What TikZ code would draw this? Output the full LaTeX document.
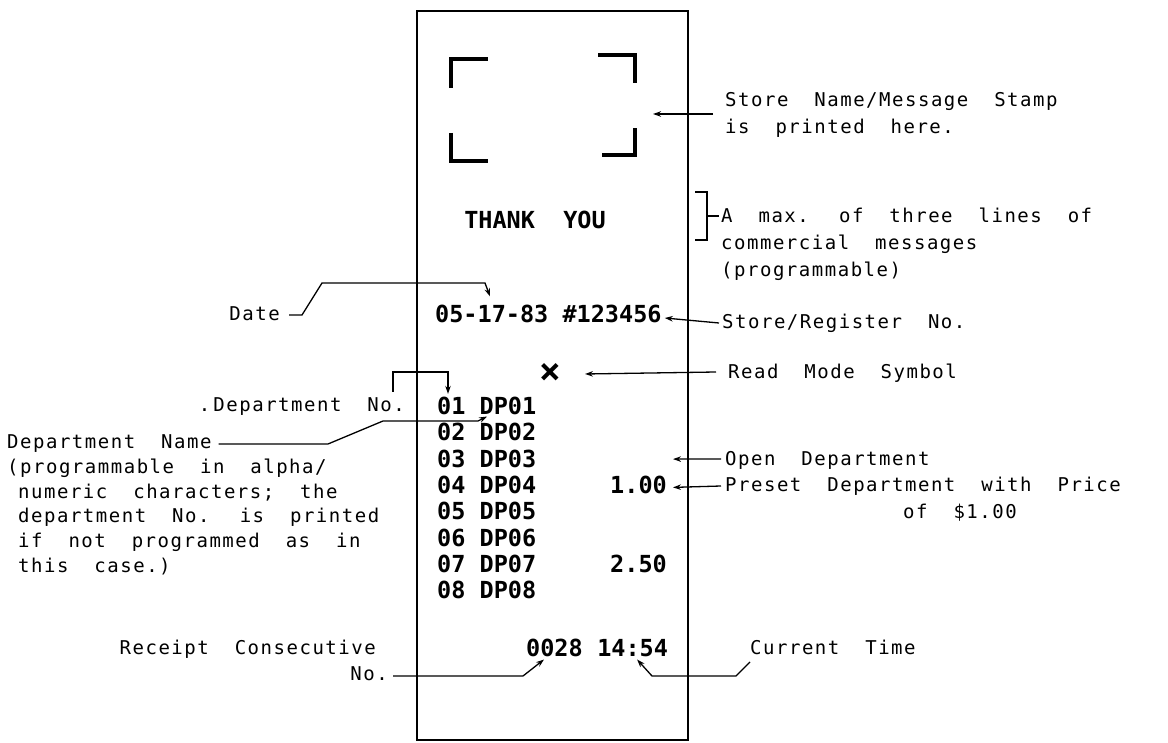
\documentclass[tikz,border=0pt]{standalone}
\usepackage{fontspec}
\newfontfamily\lblfont[LetterSpace=8, WordSpace=2]{DejaVu Sans Mono}
\newfontfamily\rcptfont{DejaVu Sans Mono}
\usetikzlibrary{positioning, arrows.meta, calc}

\begin{document}
\begin{tikzpicture}[
  x=1pt, y=-1pt,
  >={Stealth[length=8pt, width=5.5pt]},
  % --- node styles ---
  lbl/.style={
    font=\lblfont\fontsize{19}{27}\selectfont,
    inner sep=0pt, align=left, anchor=base west
  },
  rcpt/.style={
    font=\rcptfont\bfseries\fontsize{23.5}{26}\selectfont,
    inner sep=0pt, anchor=base west
  },
  arr/.style={->, line width=1.3pt},
  lead/.style={line width=1.3pt},
  cornermark/.style={line width=3.6pt},
]
\useasboundingbox (0,0) rectangle (1168,743);

% ══════════════════════════════════════════════
% RECEIPT
% ══════════════════════════════════════════════

\node[draw, line width=2pt, inner sep=0pt, anchor=north west,
  minimum width=271pt, minimum height=729pt] (receipt) at (416,10) {};

% stamp area corners
\draw[cornermark] (451,88) -- (451,59) -- (488,59);
\draw[cornermark] (598,55) -- (635,55) -- (635,83);
\draw[cornermark] (451,133) -- (451,161) -- (488,161);
\draw[cornermark] (602,155) -- (635,155) -- (635,128);

\node[rcpt, anchor=base] (thanks) at (535,229) {THANK\ \ YOU};

\node[rcpt] (date) at (435,323) {05-17-83 \#123456};

\node[rcpt, anchor=center, font=\rcptfont\bfseries\fontsize{36}{36}\selectfont]
  (readX) at (550,373) {×};

\foreach \i in {1,...,8}
  \node[rcpt] (dp\i) at (437, {414.5 + 26.3*(\i-1)}) {0\i\ DP0\i};

\node[rcpt, anchor=base east] (price4) at (dp4.base -| 667,0) {1.00};
\node[rcpt, anchor=base east] (price7) at (dp7.base -| 667,0) {2.50};

\node[rcpt] (seqNo) at (526,656.5) {0028};
\node[rcpt] (clock) at ([xshift=14.1pt]seqNo.base east) {14:54};

% ══════════════════════════════════════════════
% RIGHT-HAND LABELS
% ══════════════════════════════════════════════

\node[lbl, anchor=north west] (stamp) at (725,92)
  {Store Name/Message Stamp\\is printed here.};
\draw[arr] ([xshift=-12pt, yshift=-22pt]stamp.north west) -- ++(-60,0);

\node[lbl, anchor=north west] (msg) at (721,208)
  {A max. of three lines of\\commercial messages\\(programmable)};
\draw[lead] (695,192) -- (707,192) -- (707,240) -- (695,240);
\draw[lead] (707,216) -- ([xshift=-2pt, yshift=-8pt]msg.north west);

\node[lbl] (regLbl) at (722,329) {Store/Register No.};
\draw[arr] ([xshift=-3pt, yshift=6pt]regLbl.base west)
  -- ([xshift=3pt, yshift=5pt]date.base east);

\node[lbl] (readLbl) at (728,378) {Read Mode Symbol};
\draw[arr] ([xshift=-12pt, yshift=6pt]readLbl.base west)
  -- ([xshift=35pt, yshift=-1pt]readX.center);

\node[lbl] (openLbl) at (725,465) {Open Department};
\draw[arr] ([xshift=-4pt, yshift=6pt]openLbl.base west)
  -- ([xshift=6pt, yshift=8pt]dp3.base -| price4.east);

\node[lbl, anchor=north west] (presetLbl) at (725,477)
  {Preset Department with Price\\\hspace*{178pt}of \$1.00};
\draw[arr] ([xshift=-4pt, yshift=-9pt]presetLbl.north west)
  -- ([xshift=6pt, yshift=6pt]price4.base east);

\node[lbl] (curLbl) at (750,654) {Current Time};
\draw[arr] ([xshift=0pt, yshift=-8pt]curLbl.base west) -- (736,676)
  -- (652,676) -- ([xshift=40pt, yshift=-3pt]clock.base west);

% ══════════════════════════════════════════════
% LEFT-HAND LABELS
% ══════════════════════════════════════════════

\node[lbl, anchor=base east] (dateLbl) at (280,321) {Date};
\draw[arr] ([xshift=9pt, yshift=6pt]dateLbl.base east) -- ++(13,0)
  -- (322,283) -- (485,283) -- ([xshift=55pt, yshift=9pt]date.north west);

\node[lbl, anchor=base east] (dnoLbl) at (405,412) {.\,Department No.};
\draw[arr] ([xshift=-12pt, yshift=20pt]dnoLbl.base east)
  |- ([xshift=11pt, yshift=25pt]dp1.north west)
  -- ([xshift=11pt, yshift=3pt]dp1.north west);

\node[lbl] (dnameLbl) at (7,448) {Department Name};
\node[lbl, anchor=north west, font=\lblfont\fontsize{19}{24.8}\selectfont]
  (dnameNote) at (7,458.6)
  {(programmable in alpha/\\
   \hspace*{11pt}numeric characters; the\\
   \hspace*{11pt}department No. is printed\\
   \hspace*{11pt}if not programmed as in\\
   \hspace*{11pt}this case.)};
\draw[arr] ([xshift=7pt, yshift=4pt]dnameLbl.base east) -- (328,444)
  -- (383,421) -- (478,421) -- ([xshift=50pt, yshift=-2pt]dp1.base west);

\node[lbl, anchor=base east] (rcnLbl) at (376,654) {Receipt Consecutive};
\node[lbl, anchor=base east] (rcnNo) at (388,680) {No.};
\draw[arr] ([xshift=5pt, yshift=4pt]rcnNo.base east) -- (523,676)
  -- ([xshift=18pt, yshift=-3pt]seqNo.base west);

\end{tikzpicture}
\end{document}
